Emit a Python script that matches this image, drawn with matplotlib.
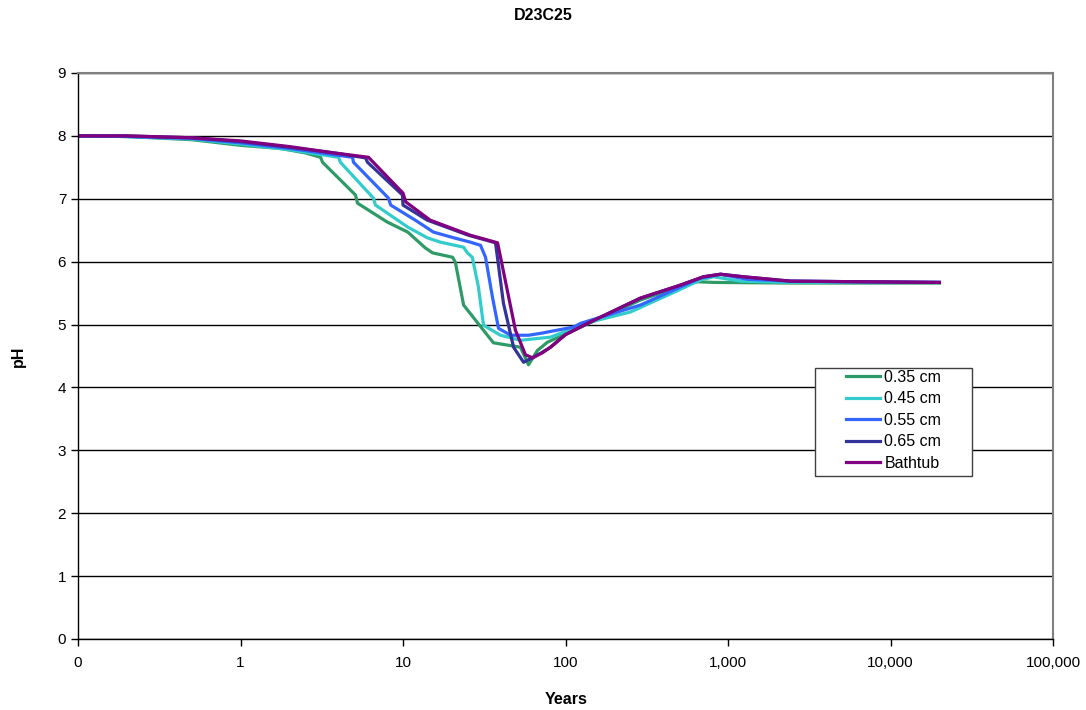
import matplotlib
matplotlib.use('agg')
import matplotlib.pyplot as plt
from matplotlib.ticker import FixedLocator, NullLocator
from matplotlib.patches import Rectangle

plt.rcParams['font.family'] = ['Liberation Sans', 'DejaVu Sans']

# pH vs years
x_035 = [0.1, 0.2, 0.5, 1.0, 1.76, 2.5, 3.11, 3.2, 5.1, 5.25, 8.0, 10.7, 13.7, 15.2, 20.2, 21, 23.6,
         36, 52.8, 59.2, 67.3, 77.5, 124, 289, 550, 649, 815, 2425, 20000]
y_035 = [8.0, 7.99, 7.94, 7.85, 7.80, 7.73, 7.66, 7.58, 7.06, 6.93, 6.63, 6.47, 6.22, 6.14, 6.07, 5.99, 5.31,
         4.71, 4.64, 4.36, 4.59, 4.72, 4.96, 5.39, 5.64, 5.68, 5.67, 5.66, 5.66]

x_045 = [0.1, 0.2, 0.5, 1.0, 2.0, 4.01, 4.12, 6.58, 6.77, 10.7, 14.1, 17, 23.6, 24.9, 26.7, 29.1, 31.3,
         39.8, 52.8, 80.9, 142, 251, 500, 677, 815, 1194, 2425, 20000]
y_045 = [8.0, 7.99, 7.95, 7.87, 7.78, 7.66, 7.58, 7.01, 6.90, 6.55, 6.38, 6.31, 6.23, 6.14, 6.07, 5.60, 4.99,
         4.83, 4.75, 4.80, 5.04, 5.20, 5.55, 5.71, 5.76, 5.69, 5.67, 5.67]

x_055 = [0.1, 0.2, 0.5, 1.0, 2.0, 4.89, 4.96, 8.14, 8.4, 11.9, 15.4, 20.5, 26, 30, 32.2, 35.5, 38.7,
         45.9, 59.2, 70.2, 112, 124, 289, 677, 899, 1319, 2425, 20000]
y_055 = [8.0, 7.99, 7.96, 7.89, 7.80, 7.66, 7.58, 7.01, 6.90, 6.66, 6.47, 6.38, 6.31, 6.26, 6.07, 5.44, 4.94,
         4.83, 4.83, 4.86, 4.96, 5.02, 5.31, 5.74, 5.80, 5.72, 5.69, 5.67]

x_065 = [0.1, 0.2, 0.5, 1.0, 2.0, 4.0, 5.88, 6.05, 9.93, 10, 14.1, 25.3, 37.1, 41.5, 47.9, 55.2, 63.5,
         72, 80.9, 100, 142, 289, 500, 707, 899, 1245, 2425, 20000]
y_065 = [8.0, 8.0, 7.97, 7.91, 7.82, 7.72, 7.65, 7.58, 7.06, 6.90, 6.66, 6.42, 6.30, 5.34, 4.64, 4.40, 4.48,
         4.56, 4.64, 4.84, 5.04, 5.42, 5.62, 5.76, 5.80, 5.76, 5.69, 5.67]

x_bath = [0.1, 0.2, 0.5, 1.0, 2.0, 4.0, 6.13, 10, 10.4, 14.7, 26, 38.2, 49.2, 56.7, 62.7, 72, 80.9, 100,
          142, 289, 500, 707, 899, 1245, 2425, 20000]
y_bath = [8.0, 8.0, 7.97, 7.92, 7.83, 7.72, 7.66, 7.09, 6.95, 6.66, 6.42, 6.30, 4.91, 4.52, 4.47, 4.55, 4.64, 4.84,
          5.04, 5.42, 5.62, 5.76, 5.80, 5.76, 5.69, 5.67]

series = [
    ('0.35 cm', x_035, y_035, '#2E9B67'),
    ('0.45 cm', x_045, y_045, '#33CCCC'),
    ('0.55 cm', x_055, y_055, '#3366FF'),
    ('0.65 cm', x_065, y_065, '#333399'),
    ('Bathtub', x_bath, y_bath, '#800080'),
]

x_ticks = [0.1, 1, 10, 100, 1000, 10000, 100000]
x_labels = ['0', '1', '10', '100', '1,000', '10,000', '100,000']

fig = plt.figure(figsize=(10.86, 7.1), dpi=100)
ax = fig.add_axes([78/1086, 71/710, 975/1086, 566/710])

for label, xs, ys, col in series:
    ax.plot(xs, ys, color=col, lw=2.3, label=label, solid_joinstyle='round')

ax.set_xscale('log')
ax.set_xlim(0.1, 100000)
ax.set_ylim(0, 9)
ax.xaxis.set_major_locator(FixedLocator(x_ticks))
ax.xaxis.set_minor_locator(NullLocator())
ax.set_xticklabels(x_labels)
ax.set_yticks(range(10))
ax.yaxis.grid(True, color='black', lw=1)
ax.set_axisbelow(True)
ax.tick_params(axis='both', labelsize=11, direction='out', length=5, width=1, color='black')
ax.tick_params(axis='x', pad=7)

for s in ['top', 'right']:
    ax.spines[s].set_color('#808080')
    ax.spines[s].set_linewidth(1.5)
for s in ['left', 'bottom']:
    ax.spines[s].set_color('black')
    ax.spines[s].set_linewidth(1)

fig.text(0.5, 1 - 16/710, 'D23C25', ha='center', va='center', fontsize=11.5, fontweight='bold')
fig.text(566/1086, 1 - 700/710, 'Years', ha='center', va='center', fontsize=11.5, fontweight='bold')
fig.text(18/1086, 1 - 356/710, 'pH', ha='center', va='center', fontsize=11.5, fontweight='bold', rotation=90)

# legend box drawn separately (wide side padding as in the reference)
box = Rectangle((815/1086, 1 - 476/710), 157/1086, 108/710, transform=fig.transFigure,
                facecolor='white', edgecolor='#404040', lw=1, zorder=5, clip_on=False)
ax.add_patch(box)
leg = ax.legend(loc='upper left', bbox_to_anchor=(846/1086, 1 - 370/710),
                bbox_transform=fig.transFigure, fontsize=11.5, frameon=False,
                borderpad=0, labelspacing=0.4, handlelength=2.15, handletextpad=0.25,
                borderaxespad=0)
leg.set_zorder(6)

fig.savefig('out.png', dpi=100)
